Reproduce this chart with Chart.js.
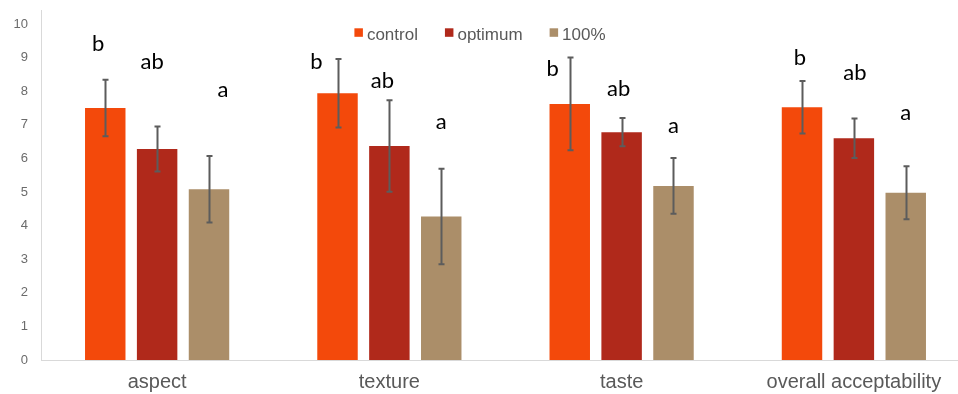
<!DOCTYPE html>
<html>
<head>
<meta charset="utf-8">
<style>
  html, body { margin: 0; padding: 0; background: #fff; overflow: hidden; }
  #wrap { width: 958px; height: 394px; overflow: hidden; position: relative; }
  #c { position: absolute; left: 0; top: 0; }
</style>
<script src="https://cdn.jsdelivr.net/npm/chart.js@4/dist/chart.umd.min.js"></script>
</head>
<body>
<div id="wrap"><canvas id="c" width="972" height="394"></canvas></div>
<script>
// Sensory scores (mean and standard deviation) per attribute and formulation
const categories = ['aspect', 'texture', 'taste', 'overall acceptability'];
const seriesNames = ['control', 'optimum', '100%'];

const controlMean = [7.50, 7.94, 7.62, 7.52];
const controlSD   = [0.84, 1.02, 1.38, 0.78];
const optimumMean = [6.28, 6.37, 6.78, 6.60];
const optimumSD   = [0.67, 1.36, 0.42, 0.59];
const fullMean    = [5.08, 4.27, 5.18, 4.98];
const fullSD      = [0.99, 1.42, 0.83, 0.79];

// Significance letters per series
const controlLetters = ['b', 'b', 'b', 'b'];
const optimumLetters = ['ab', 'ab', 'ab', 'ab'];
const fullLetters    = ['a', 'a', 'a', 'a'];

const yTicks = [0, 1, 2, 3, 4, 5, 6, 7, 8, 9, 10];

const colors = ['#F3490B', '#B0291B', '#AB8E69'];

// Placement of the letters: horizontal shift from the bar centre (px) and baseline height (score units)
const letterPlacement = [
  [{dx: -7, y: 9.21}, {dx: -21, y: 8.65}, {dx: -17, y: 8.46}, {dx: -2, y: 8.78}],
  [{dx: -5, y: 8.65}, {dx: -7, y: 8.10}, {dx: -3, y: 7.86}, {dx: 1, y: 8.33}],
  [{dx: 14, y: 7.83}, {dx: 0, y: 6.87}, {dx: 0, y: 6.77}, {dx: 0, y: 7.15}]
];

const means = [controlMean, optimumMean, fullMean];
const sds = [controlSD, optimumSD, fullSD];
const letters = [controlLetters, optimumLetters, fullLetters];

const errorBars = {
  id: 'errorBars',
  afterDatasetsDraw(chart) {
    const ctx = chart.ctx;
    const y = chart.scales.y;
    ctx.save();
    ctx.strokeStyle = '#5C5C5C';
    ctx.lineWidth = 2;
    chart.data.datasets.forEach((ds, di) => {
      const meta = chart.getDatasetMeta(di);
      meta.data.forEach((bar, i) => {
        const m = means[di][i], s = sds[di][i];
        const x = Math.round(bar.x) + 0.5;
        const yt = y.getPixelForValue(m + s);
        const yb = y.getPixelForValue(m - s);
        ctx.beginPath();
        ctx.moveTo(x, yt); ctx.lineTo(x, yb);
        ctx.moveTo(x - 3, yt); ctx.lineTo(x + 3, yt);
        ctx.moveTo(x - 3, yb); ctx.lineTo(x + 3, yb);
        ctx.stroke();
      });
    });
    ctx.restore();
  }
};

const letterLabels = {
  id: 'letterLabels',
  afterDatasetsDraw(chart) {
    const ctx = chart.ctx;
    const y = chart.scales.y;
    ctx.save();
    ctx.fillStyle = '#000';
    ctx.font = '22px Lato, "Open Sans", sans-serif';
    ctx.textAlign = 'center';
    ctx.textBaseline = 'alphabetic';
    chart.data.datasets.forEach((ds, di) => {
      const meta = chart.getDatasetMeta(di);
      meta.data.forEach((bar, i) => {
        const p = letterPlacement[di][i];
        ctx.fillText(letters[di][i], bar.x + p.dx, y.getPixelForValue(p.y));
      });
    });
    ctx.restore();
  }
};

// Legend drawn inside the plot area, centred near the top
const innerLegend = {
  id: 'innerLegend',
  afterDraw(chart) {
    const ctx = chart.ctx;
    ctx.save();
    ctx.font = '17px "Liberation Sans", Arial, sans-serif';
    ctx.textBaseline = 'alphabetic';
    ctx.textAlign = 'left';
    const box = 8.5, gapText = 4, gapItem = 27;
    const items = chart.data.datasets.map(ds => ({
      label: ds.label, color: ds.backgroundColor, w: ctx.measureText(ds.label).width
    }));
    const total = items.reduce((a, it) => a + box + gapText + it.w, 0) + gapItem * (items.length - 1);
    let x = 480 - total / 2;
    items.forEach(it => {
      ctx.fillStyle = it.color;
      ctx.fillRect(x, 28.3, box, box);
      ctx.fillStyle = '#595959';
      ctx.fillText(it.label, x + box + gapText, 39.5);
      x += box + gapText + it.w + gapItem;
    });
    ctx.restore();
  }
};

new Chart(document.getElementById('c'), {
  type: 'bar',
  data: {
    labels: categories,
    datasets: seriesNames.map((name, i) => ({
      label: name,
      data: means[i],
      backgroundColor: colors[i],
      borderWidth: 0,
      categoryPercentage: 0.67,
      barPercentage: 0.78
    }))
  },
  options: {
    responsive: false,
    animation: false,
    layout: { padding: { top: 10.56, right: 2, left: 0, bottom: 0 } },
    plugins: {
      legend: { display: false },
      tooltip: { enabled: false }
    },
    scales: {
      x: {
        grid: { display: false, drawTicks: false },
        border: { display: true, color: '#D9D9D9', width: 1 },
        ticks: {
          color: '#595959',
          font: { size: 20, family: '"Liberation Sans", Arial, sans-serif' },
          padding: 10,
          maxRotation: 0,
          autoSkip: false
        },
        afterFit(s) { s.height = 34; s.paddingLeft = 0; s.paddingRight = 0; }
      },
      y: {
        min: 0,
        max: 10.4,
        grid: { display: false, drawTicks: false },
        border: { display: true, color: '#D9D9D9', width: 1 },
        afterBuildTicks(s) { s.ticks = yTicks.map(v => ({ value: v })); },
        ticks: {
          color: '#6B6B6B',
          font: { size: 13, family: '"Liberation Sans", Arial, sans-serif' },
          padding: 13
        },
        afterFit(s) { s.width = 41; s.paddingTop = 0; s.paddingBottom = 0; }
      }
    }
  },
  plugins: [errorBars, letterLabels, innerLegend]
});
</script>
</body>
</html>
